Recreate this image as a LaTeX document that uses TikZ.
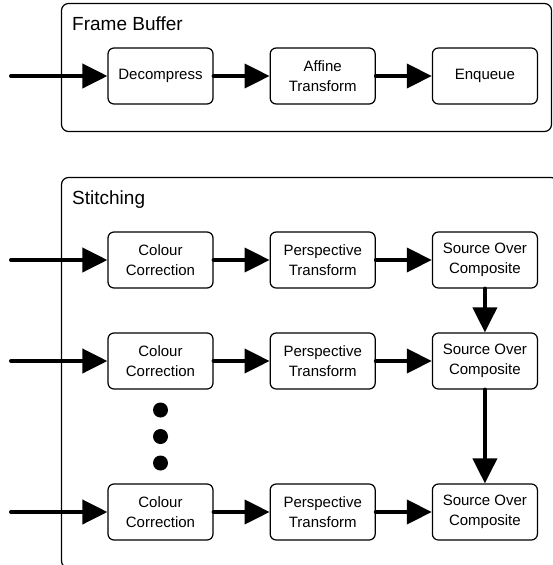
\documentclass[tikz,border=0pt]{standalone}
\usepackage{fontspec}
\setmainfont{Liberation Sans}
\usetikzlibrary{positioning,arrows.meta}
\tikzset{stage/.style={draw,rounded corners=6pt,line width=1.2pt,
                       minimum width=105pt,minimum height=56pt,
                       align=center,inner sep=2pt,
                       font=\fontsize{15}{20.5}\selectfont},
         groupbox/.style={draw,rounded corners=7pt,line width=1.2pt},
         grouptitle/.style={anchor=base west,inner sep=0pt,
                            font=\fontsize{19}{22}\selectfont},
         flow/.style={line width=4pt,line cap=round,
                      -{Triangle[length=25pt,width=24pt]}},
         dot/.style={circle,fill,inner sep=0pt,minimum size=15pt},
         node distance=56pt}

\begin{document}
\begin{tikzpicture}[x=1pt,y=-1pt]
    \useasboundingbox (0,0) rectangle (553,565);
    \clip (0,0) rectangle (553,565);

    % frame buffer
    \draw[groupbox] (61.5,3.5) rectangle (551.5,131.5);
    \node[grouptitle] (fbtitle) at (72,30) {Frame Buffer};
    \node[stage] (decomp) at (160.5,76) {Decompress};
    \node[stage,right=of decomp] (affine) {Affine\\Transform};
    \node[stage,right=of affine] (enq) {Enqueue};
    \coordinate (fbin) at (11,76);
    \draw[flow] (fbin) -- (decomp);
    \draw[flow] (decomp) -- (affine);
    \draw[flow] (affine) -- (enq);

    % stitching
    \draw[groupbox] (61.5,177.5) rectangle (558,568);
    \node[grouptitle] (sttitle) at (72,204) {Stitching};

    \node[stage] (colourA) at (160.5,260) {Colour\\Correction};
    \node[stage,right=of colourA] (perspA) {Perspective\\Transform};
    \node[stage,right=of perspA] (overA) {Source Over\\Composite};

    \node[stage] (colourB) at (160.5,361) {Colour\\Correction};
    \node[stage,right=of colourB] (perspB) {Perspective\\Transform};
    \node[stage,right=of perspB] (overB) {Source Over\\Composite};

    \node[dot] (dotA) at (160.5,410) {};
    \node[dot] (dotB) at (160.5,436.5) {};
    \node[dot] (dotC) at (160.5,463) {};

    \node[stage] (colourC) at (160.5,512) {Colour\\Correction};
    \node[stage,right=of colourC] (perspC) {Perspective\\Transform};
    \node[stage,right=of perspC] (overC) {Source Over\\Composite};

    \coordinate (inA) at (11,260);
    \coordinate (inB) at (11,361);
    \coordinate (inC) at (11,512);

    \draw[flow] (inA) -- (colourA);
    \draw[flow] (colourA) -- (perspA);
    \draw[flow] (perspA) -- (overA);
    \draw[flow] (inB) -- (colourB);
    \draw[flow] (colourB) -- (perspB);
    \draw[flow] (perspB) -- (overB);
    \draw[flow] (inC) -- (colourC);
    \draw[flow] (colourC) -- (perspC);
    \draw[flow] (perspC) -- (overC);

    \draw[flow] (overA) -- (overB);
    \draw[flow] (overB) -- (overC);
\end{tikzpicture}
\end{document}
